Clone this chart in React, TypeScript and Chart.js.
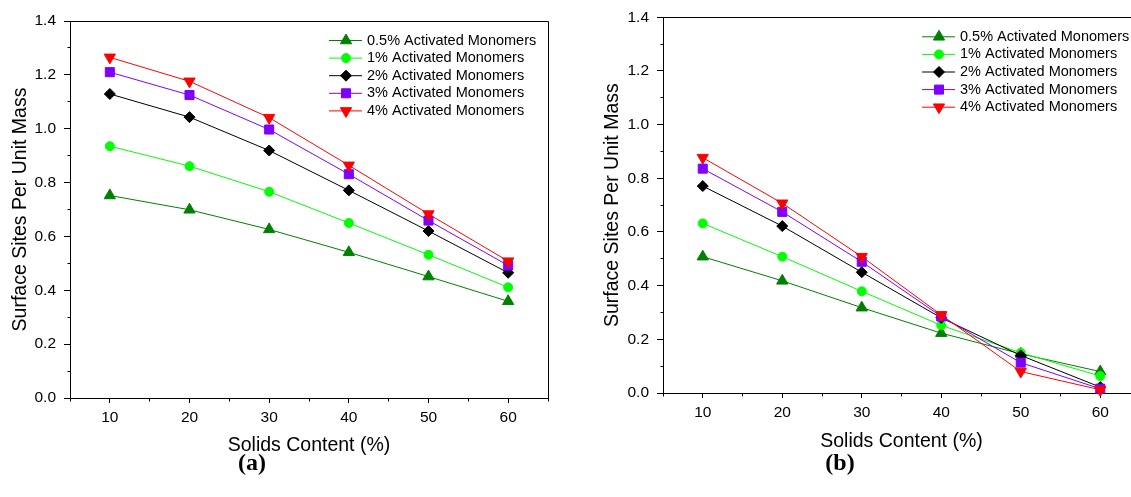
import React, { useEffect, useRef } from 'react';
import { Chart, registerables } from 'chart.js';
import { drawPoint } from 'chart.js/helpers';

Chart.register(...registerables);

// ---------- data ----------
const solids = [10, 20, 30, 40, 50, 60];
const seriesLabels = [
  '0.5% Activated Monomers',
  '1% Activated Monomers',
  '2% Activated Monomers',
  '3% Activated Monomers',
  '4% Activated Monomers',
];

// panel (a)
const a05 = [0.752, 0.699, 0.626, 0.541, 0.451, 0.359];
const a1 = [0.935, 0.861, 0.766, 0.65, 0.532, 0.411];
const a2 = [1.129, 1.043, 0.919, 0.771, 0.62, 0.465];
const a3 = [1.21, 1.125, 0.997, 0.831, 0.659, 0.492];
const a4 = [1.265, 1.176, 1.041, 0.864, 0.683, 0.508];

// panel (b)
const b05 = [0.508, 0.418, 0.318, 0.223, 0.146, 0.08];
const b1 = [0.632, 0.508, 0.379, 0.252, 0.15, 0.063];
const b2 = [0.771, 0.622, 0.45, 0.28, 0.14, 0.022];
const b3 = [0.836, 0.675, 0.489, 0.285, 0.113, 0.016];
const b4 = [0.877, 0.707, 0.508, 0.291, 0.08, 0.012];

const xMajorTicks = [10, 20, 30, 40, 50, 60];
const xMinorTicks = [5, 15, 25, 35, 45, 55, 65];
const yMajorTicks = [0, 0.2, 0.4, 0.6, 0.8, 1.0, 1.2, 1.4];
const yMinorTicks = [0.1, 0.3, 0.5, 0.7, 0.9, 1.1, 1.3];

const xTitle = 'Solids Content (%)';
const yTitle = 'Surface Sites Per Unit Mass';

// ---------- styles ----------
const colors = ['#008000', '#00FF00', '#000000', '#8000FF', '#FF0000'];
const pointStyles = ['triangle', 'circle', 'rectRot', 'rect', 'triangle'];
const rotations = [0, 0, 0, 0, 180];
const radii = [6.5, 4.5, 5.5, 6.4, 6.5];
const FONT = '"Liberation Sans", Arial, sans-serif';

function alignPx(p: number) {
  return Math.round(p - 0.5) + 0.5;
}

const framePlugin = {
  id: 'frameAndMinor',
  afterDraw(chart: any) {
    const { ctx, chartArea, scales } = chart;
    const l = alignPx(chartArea.left);
    const r = alignPx(chartArea.right);
    const t = alignPx(chartArea.top);
    const b = alignPx(chartArea.bottom);
    ctx.save();
    ctx.strokeStyle = '#000';
    ctx.lineWidth = 1;
    ctx.beginPath();
    ctx.moveTo(l, t);
    ctx.lineTo(r, t);
    ctx.lineTo(r, b);
    ctx.stroke();
    ctx.beginPath();
    xMinorTicks.forEach((v) => {
      const px = alignPx(scales.x.getPixelForValue(v));
      ctx.moveTo(px, b);
      ctx.lineTo(px, b + 3);
    });
    yMinorTicks.forEach((v) => {
      const py = alignPx(scales.y.getPixelForValue(v));
      ctx.moveTo(l - 3, py);
      ctx.lineTo(l, py);
    });
    ctx.stroke();
    ctx.restore();
  },
};

const legendPlugin = {
  id: 'insetLegend',
  afterDraw(chart: any) {
    const { ctx, chartArea } = chart;
    const x1 = chartArea.left + 259;
    const x2 = chartArea.left + 292;
    const xm = chartArea.left + 276;
    const xt = chartArea.left + 297;
    chart.data.datasets.forEach((ds: any, i: number) => {
      const y = chartArea.top + 19.5 + i * 17.6;
      ctx.save();
      ctx.strokeStyle = ds.borderColor;
      ctx.lineWidth = 1;
      ctx.beginPath();
      ctx.moveTo(x1, y);
      ctx.lineTo(x2, y);
      ctx.stroke();
      ctx.fillStyle = ds.pointBackgroundColor;
      ctx.strokeStyle = ds.pointBorderColor;
      ctx.lineWidth = 1;
      drawPoint(
        ctx,
        { pointStyle: ds.pointStyle, rotation: ds.pointRotation, radius: ds.pointRadius, borderWidth: 1 },
        xm,
        y
      );
      ctx.fillStyle = '#000';
      ctx.font = '14.5px ' + FONT;
      ctx.textBaseline = 'middle';
      ctx.textAlign = 'left';
      ctx.fillText(ds.label, xt, y);
      ctx.restore();
    });
  },
};

type Geo = {
  yWidth: number;
  xHeight: number;
  padRight: number;
  padTop: number;
  yTitlePad: number;
  xTitlePad: number;
};

function makeConfig(series: number[][], g: Geo): any {
  return {
    type: 'line',
    data: {
      datasets: series.map((vals, i) => ({
        label: seriesLabels[i],
        data: solids.map((x, j) => ({ x, y: vals[j] })),
        borderColor: colors[i],
        backgroundColor: colors[i],
        pointBackgroundColor: colors[i],
        pointBorderColor: colors[i],
        pointStyle: pointStyles[i],
        pointRotation: rotations[i],
        pointRadius: radii[i],
        pointBorderWidth: 1,
        borderWidth: 1,
        tension: 0,
        clip: false,
        order: series.length - i,
      })),
    },
    options: {
      responsive: false,
      animation: false,
      events: [],
      layout: { padding: { left: 0, top: g.padTop, right: g.padRight, bottom: 0 } },
      plugins: { legend: { display: false }, tooltip: { enabled: false }, title: { display: false } },
      scales: {
        x: {
          type: 'linear',
          min: 5,
          max: 65,
          afterBuildTicks: (s: any) => {
            s.ticks = xMajorTicks.map((v) => ({ value: v }));
          },
          afterFit: (s: any) => {
            s.height = g.xHeight;
          },
          grid: { drawOnChartArea: false, drawTicks: true, tickLength: 5, tickColor: '#000', tickWidth: 1 },
          border: { display: true, color: '#000', width: 1 },
          ticks: {
            color: '#000',
            font: { family: FONT, size: 15.5 },
            padding: 5,
            maxRotation: 0,
            autoSkip: false,
            callback: (v: any) => String(v),
          },
          title: {
            display: true,
            text: xTitle,
            color: '#000',
            font: { family: FONT, size: 19.5 },
            padding: { top: 0, bottom: g.xTitlePad },
          },
        },
        y: {
          type: 'linear',
          min: 0,
          max: 1.4,
          afterBuildTicks: (s: any) => {
            s.ticks = yMajorTicks.map((v) => ({ value: v }));
          },
          afterFit: (s: any) => {
            s.width = g.yWidth;
          },
          grid: { drawOnChartArea: false, drawTicks: true, tickLength: 6, tickColor: '#000', tickWidth: 1 },
          border: { display: true, color: '#000', width: 1 },
          ticks: {
            color: '#000',
            font: { family: FONT, size: 15.5 },
            padding: 8,
            autoSkip: false,
            callback: (v: any) => Number(v).toFixed(1),
          },
          title: {
            display: true,
            text: yTitle,
            color: '#000',
            font: { family: FONT, size: 19.5 },
            padding: { top: g.yTitlePad, bottom: 0 },
          },
        },
      },
    },
    plugins: [framePlugin, legendPlugin],
  };
}

function Panel(props: { series: number[][]; geo: Geo; left: number; width: number }) {
  const ref = useRef<HTMLCanvasElement | null>(null);
  useEffect(() => {
    if (!ref.current) return;
    const chart = new Chart(ref.current, makeConfig(props.series, props.geo));
    return () => chart.destroy();
  }, []);
  return (
    <canvas
      ref={ref}
      width={props.width}
      height={497}
      style={{ position: 'absolute', left: props.left, top: 0, width: props.width, height: 497 }}
    />
  );
}

const captionStyle: React.CSSProperties = {
  position: 'absolute',
  width: 100,
  textAlign: 'center',
  fontFamily: '"Liberation Serif", "DejaVu Serif", serif',
  fontWeight: 'bold',
  fontSize: 24,
  lineHeight: '28px',
  color: '#000',
};

export default function App() {
  return (
    <div
      style={{
        position: 'absolute',
        left: 0,
        top: 0,
        width: 1131,
        height: 497,
        overflow: 'hidden',
        background: '#fff',
      }}
    >
      <Panel
        series={[a05, a1, a2, a3, a4]}
        left={0}
        width={565}
        geo={{ yWidth: 70, xHeight: 99, padRight: 17, padTop: 21, yTitlePad: 9, xTitlePad: 40 }}
      />
      <Panel
        series={[b05, b1, b2, b3, b4]}
        left={570}
        width={600}
        geo={{ yWidth: 93, xHeight: 104, padRight: 30, padTop: 17, yTitlePad: 31, xTitlePad: 44 }}
      />
      <div style={{ ...captionStyle, left: 252 - 50, top: 448 }}>(a)</div>
      <div style={{ ...captionStyle, left: 840 - 50, top: 448 }}>(b)</div>
    </div>
  );
}
